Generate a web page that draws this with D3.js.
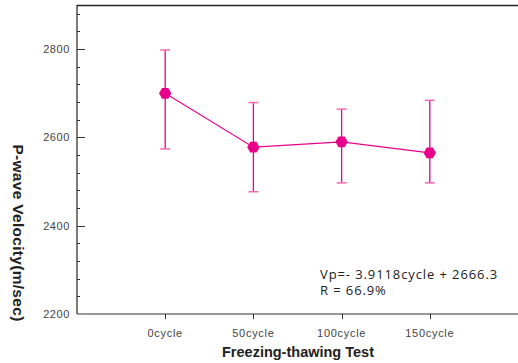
<!DOCTYPE html>
<html>
<head>
<meta charset="utf-8">
<script src="https://cdnjs.cloudflare.com/ajax/libs/d3/7.8.5/d3.min.js"></script>
<style>
  body { margin: 0; background: #fff; }
  svg { display: block; }
</style>
</head>
<body>
<svg id="chart" width="518" height="363"></svg>
<script>
// values
var categories = ['0cycle', '50cycle', '100cycle', '150cycle'];
var meanVel = [2700, 2578, 2590, 2565];
var upperVel = [2798, 2679, 2664, 2684];
var lowerVel = [2574, 2477, 2497, 2497];
var yMajorTicks = [2200, 2400, 2600, 2800];
var equationLines = ['Vp=- 3.9118cycle + 2666.3', 'R = 66.9%'];

var svg = d3.select('#chart');
var plotLeft = 77, plotRight = 518, plotTop = 5, plotBottom = 314;
var pink = '#e8008a';

var x = d3.scalePoint().domain(categories).range([plotLeft, plotRight]).padding(1);
var y = d3.scaleLinear().domain([2200, 2900]).range([plotBottom, plotTop]);

var info = categories.map(function(c, i) {
	return { cat: c, mean: meanVel[i], hi: upperVel[i], lo: lowerVel[i] };
});

// frame: top + left dark, bottom grey
svg.append('line').attr('x1', plotLeft).attr('x2', plotRight).attr('y1', plotTop + 0.5).attr('y2', plotTop + 0.5)
	.attr('stroke', '#222').attr('stroke-width', 1.5);
svg.append('line').attr('x1', plotRight).attr('x2', plotLeft).attr('y1', plotBottom).attr('y2', plotBottom)
	.attr('stroke', '#777').attr('stroke-width', 1.5);

// y axis, ticks point inward
var yAxis = svg.append('g').attr('transform', 'translate(' + plotLeft + ',0)');
yAxis.append('line').attr('y1', plotTop).attr('y2', plotBottom).attr('stroke', '#222').attr('stroke-width', 1.2);
var minor = d3.range(2240, 2900, 40).filter(function(v) { return yMajorTicks.indexOf(v) < 0; });
yAxis.selectAll('.minor').data(minor).enter().append('line')
	.attr('x1', 0).attr('x2', 3)
	.attr('y1', function(d) { return Math.round(y(d)) + 0.5; })
	.attr('y2', function(d) { return Math.round(y(d)) + 0.5; })
	.attr('stroke', '#333').attr('stroke-width', 1);
yAxis.selectAll('.major').data(yMajorTicks.filter(function(v) { return v > 2200; })).enter().append('line')
	.attr('x1', 0).attr('x2', 8)
	.attr('y1', function(d) { return Math.round(y(d)) + 0.5; })
	.attr('y2', function(d) { return Math.round(y(d)) + 0.5; })
	.attr('stroke', '#333').attr('stroke-width', 1);
yAxis.selectAll('text').data(yMajorTicks).enter().append('text')
	.attr('x', -7).attr('y', function(d) { return y(d); })
	.attr('dy', '0.35em').attr('text-anchor', 'end')
	.attr('font-family', 'Liberation Sans, Arial, sans-serif').attr('font-size', 11)
	.attr('letter-spacing', 0.6).attr('fill', '#444')
	.text(function(d) { return d; });

// x axis, ticks point outward
var xAxis = svg.append('g');
xAxis.selectAll('line').data(categories).enter().append('line')
	.attr('x1', function(d) { return Math.round(x(d)) + 0.5; })
	.attr('x2', function(d) { return Math.round(x(d)) + 0.5; })
	.attr('y1', plotBottom).attr('y2', plotBottom + 5)
	.attr('stroke', '#333').attr('stroke-width', 1);
xAxis.selectAll('text').data(categories).enter().append('text')
	.attr('x', function(d) { return x(d); }).attr('y', 337)
	.attr('text-anchor', 'middle')
	.attr('font-family', 'Liberation Sans, Arial, sans-serif').attr('font-size', 11)
	.attr('letter-spacing', 0.7).attr('fill', '#444')
	.text(function(d) { return d; });

// axis titles
svg.append('text').attr('x', 298).attr('y', 357).attr('text-anchor', 'middle')
	.attr('font-family', 'Liberation Sans, Arial, sans-serif').attr('font-size', 14.5)
	.attr('font-weight', 'bold').attr('fill', '#222')
	.text('Freezing-thawing Test');
svg.append('text').attr('transform', 'translate(13,233) rotate(90)').attr('text-anchor', 'middle')
	.attr('font-family', 'Liberation Sans, Arial, sans-serif').attr('font-size', 15.5)
	.attr('font-weight', 'bold').attr('letter-spacing', 0.3).attr('fill', '#222')
	.text('P-wave Velocity(m/sec)');

// error bars
var bars = svg.append('g').selectAll('g').data(info).enter().append('g');
bars.append('line')
	.attr('x1', function(d) { return x(d.cat); }).attr('x2', function(d) { return x(d.cat); })
	.attr('y1', function(d) { return y(d.hi); }).attr('y2', function(d) { return y(d.lo); })
	.attr('stroke', pink).attr('stroke-width', 1.3);
['hi', 'lo'].forEach(function(k) {
	bars.append('line')
		.attr('x1', function(d) { return x(d.cat) - 5; }).attr('x2', function(d) { return x(d.cat) + 5; })
		.attr('y1', function(d) { return y(d[k]); }).attr('y2', function(d) { return y(d[k]); })
		.attr('stroke', '#f06aae').attr('stroke-width', 1.5);
});

// connecting line
svg.append('path').datum(info)
	.attr('d', d3.line().x(function(d) { return x(d.cat); }).y(function(d) { return y(d.mean); }))
	.attr('fill', 'none').attr('stroke', pink).attr('stroke-width', 1.1);

// hexagon markers
var hex = d3.range(6).map(function(i) {
	var a = Math.PI / 3 * i;
	return [6.2 * Math.cos(a), 6.2 * Math.sin(a)];
});
svg.append('g').selectAll('path').data(info).enter().append('path')
	.attr('transform', function(d) { return 'translate(' + x(d.cat) + ',' + y(d.mean) + ')'; })
	.attr('d', 'M' + hex.join('L') + 'Z')
	.attr('fill', pink);

// regression note
svg.append('g').selectAll('text').data(equationLines).enter().append('text')
	.attr('x', 320).attr('y', function(d, i) { return 279 + i * 16; })
	.attr('font-family', 'Open Sans, Noto Sans, sans-serif').attr('font-size', 13)
	.attr('letter-spacing', 0.9).attr('fill', '#222')
	.text(function(d) { return d; });
</script>
</body>
</html>
